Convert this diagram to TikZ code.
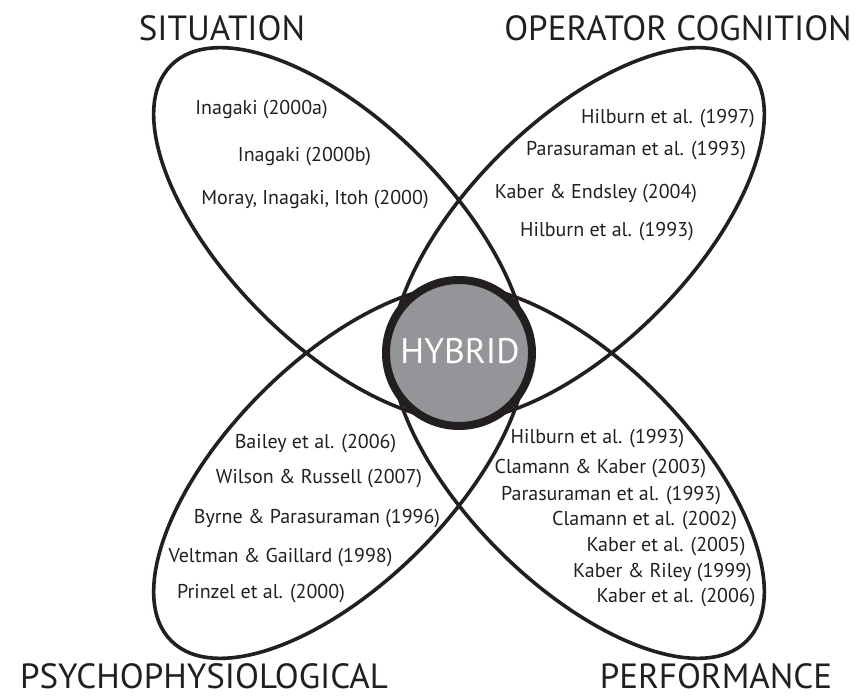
\documentclass[tikz,border=0pt]{standalone}
\usepackage{fontspec}
\setmainfont{PT Sans}
\definecolor{ink}{HTML}{231F20}
\definecolor{hubgray}{HTML}{939598}
\begin{document}
\begin{tikzpicture}[x=1pt,y=-1pt,
  lobe/.style={draw=ink,line width=3.6pt},
  hub/.style={draw=ink,fill=hubgray,line width=8pt},
  cite/.style={anchor=base,inner sep=0pt,text=ink,font=\fontsize{20}{24}\selectfont},
  heading/.style={anchor=base,inner sep=0pt,text=ink,font=\fontsize{35}{40}\selectfont},
  hubtext/.style={anchor=base,inner sep=0pt,text=white,font=\fontsize{35.5}{40}\selectfont}]
\useasboundingbox (0,0) rectangle (863,696);

% four elongated lobes, one per corner, meeting under the hub
\draw[lobe,rotate around={-45:(340.2,234.2)}] (340.2,234.2) ellipse [x radius=239pt,y radius=111.5pt];
\draw[lobe,rotate around={45:(577.8,234.2)}] (577.8,234.2) ellipse [x radius=239pt,y radius=111.5pt];
\draw[lobe,rotate around={45:(340.2,471.8)}] (340.2,471.8) ellipse [x radius=239pt,y radius=111.5pt];
\draw[lobe,rotate around={-45:(577.8,471.8)}] (577.8,471.8) ellipse [x radius=239pt,y radius=111.5pt];

% central hub
\draw[hub] (459,353) circle [radius=73pt];
\node[hubtext] (hybrid) at (460,363) {HYBRID};

% headings
\node[heading] (hsit) at (222,40) {SITUATION};
\node[heading] (hop) at (678,40) {OPERATOR COGNITION};
\node[heading] (hpsy) at (204,688) {PSYCHOPHYSIOLOGICAL};
\node[heading] (hperf) at (716,688) {PERFORMANCE};

% situation
\node[cite] (s1) at (261.5,114) {Inagaki (2000a)};
\node[cite] (s2) at (304.5,161) {Inagaki (2000b)};
\node[cite] (s3) at (315,204) {Moray, Inagaki, Itoh (2000)};

% operator cognition
\node[cite] (o1) at (668,123) {Hilburn et al. (1997)};
\node[cite] (o2) at (636,155) {Parasuraman et al. (1993)};
\node[cite] (o3) at (596,198) {Kaber \& Endsley (2004)};
\node[cite] (o4) at (607,236) {Hilburn et al. (1993)};

% psychophysiological
\node[cite] (p1) at (315.5,448) {Bailey et al. (2006)};
\node[cite] (p2) at (319,483) {Wilson \& Russell (2007)};
\node[cite] (p3) at (317,523) {Byrne \& Parasuraman (1996)};
\node[cite] (p4) at (280.5,562) {Veltman \& Gaillard (1998)};
\node[cite] (p5) at (261,598) {Prinzel et al. (2000)};

% performance
\node[cite] (f1) at (597.5,443) {Hilburn et al. (1993)};
\node[cite] (f2) at (600.5,473) {Clamann \& Kaber (2003)};
\node[cite] (f3) at (611,500) {Parasuraman et al. (1993)};
\node[cite] (f4) at (644.5,525) {Clamann et al. (2002)};
\node[cite] (f5) at (666,551) {Kaber et al. (2005)};
\node[cite] (f6) at (662.5,577) {Kaber \& Riley (1999)};
\node[cite] (f7) at (676,602) {Kaber et al. (2006)};
\end{tikzpicture}
\end{document}
